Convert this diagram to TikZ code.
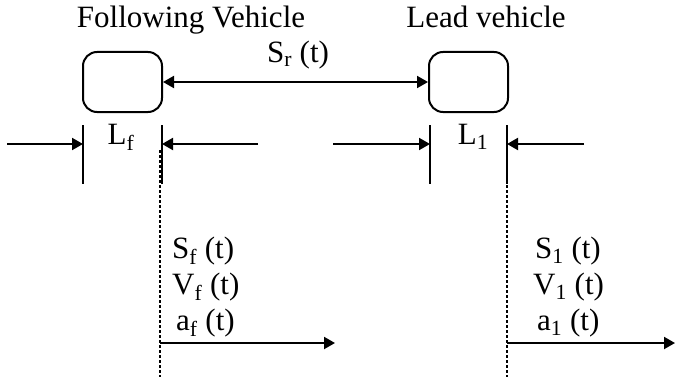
\documentclass[tikz,border=0pt]{standalone}
\usepackage{fontspec}
\setmainfont{Liberation Serif}
\usetikzlibrary{arrows.meta, calc, positioning}
\tikzstyle{vehBox}=[draw, line width=2pt, rounded corners=14pt, minimum width=79pt, minimum height=60pt, inner sep=0pt]
\tikzstyle{invisNode}=[inner sep=0pt, anchor=base, font=\fontsize{31}{37}\selectfont]
\tikzstyle{textNode}=[inner sep=0pt, anchor=base west, font=\fontsize{31}{37}\selectfont]
\tikzstyle{dimTick}=[line width=2pt]
\tikzstyle{dimArrow}=[line width=2pt, -{Triangle[length=11pt,width=12pt]}]
\tikzstyle{gapArrow}=[line width=2pt, {Triangle[length=11pt,width=12pt]}-{Triangle[length=11pt,width=12pt]}]
\tikzstyle{refLine}=[line width=1.8pt, dash pattern=on 2.5pt off 2.5pt]

\begin{document}
\begin{tikzpicture}[x=1pt, y=-1pt]
    \useasboundingbox (0,0) rectangle (676,377);

    % Vehicle Nodes
    \node[vehBox] (fBox) at (122.5, 82) {};
    \node[vehBox] (lBox) at (468.5, 82) {};
    \node[invisNode] (fTitle) at (191, 28) {Following Vehicle};
    \node[invisNode] (lTitle) at (486, 28) {Lead vehicle};

    % Gap between vehicles
    \draw[gapArrow] (fBox.east) -- (lBox.west);
    \node[invisNode, text height=21pt] (gapLabel) at (298, 63) {S\textsubscript{r} (t)};

    % Length Ticks
    \coordinate (fTick1a) at (83, 125);  \coordinate (fTick1b) at (83, 184);
    \coordinate (fTick2a) at (162, 125); \coordinate (fTick2b) at (162, 184);
    \coordinate (lTick1a) at (430, 125); \coordinate (lTick1b) at (430, 184);
    \coordinate (lTick2a) at (507, 125); \coordinate (lTick2b) at (507, 184);
    \draw[dimTick] (fTick1a) -- (fTick1b);
    \draw[dimTick] (fTick2a) -- (fTick2b);
    \draw[dimTick] (lTick1a) -- (lTick1b);
    \draw[dimTick] (lTick2a) -- (lTick2b);

    % Length Arrows
    \coordinate (fIn1) at (83, 144);  \coordinate (fOut1) at (7, 144);
    \coordinate (fIn2) at (162, 144); \coordinate (fOut2) at (258, 144);
    \coordinate (lIn1) at (430, 144); \coordinate (lOut1) at (333, 144);
    \coordinate (lIn2) at (507, 144); \coordinate (lOut2) at (584, 144);
    \draw[dimArrow] (fOut1) -- (fIn1);
    \draw[dimArrow] (fOut2) -- (fIn2);
    \draw[dimArrow] (lOut1) -- (lIn1);
    \draw[dimArrow] (lOut2) -- (lIn2);
    \node[invisNode] (fLen) at (121, 144) {L\textsubscript{f}};
    \node[invisNode] (lLen) at (473, 144) {L\textsubscript{1}};

    % Reference Lines
    \coordinate (fRefTop) at (160, 150); \coordinate (fRefBot) at (160, 377);
    \coordinate (lRefTop) at (507, 150); \coordinate (lRefBot) at (507, 377);
    \draw[refLine] (fRefTop) -- (fRefBot);
    \draw[refLine] (lRefTop) -- (lRefBot);

    % State Labels
    \node[textNode] (fPos) at (172, 258) {S\textsubscript{f} (t)};
    \node[textNode] (fVel) at (172, 294) {V\textsubscript{f} (t)};
    \node[textNode] (fAcc) at (176, 330) {a\textsubscript{f} (t)};
    \node[textNode] (lPos) at (535, 258) {S\textsubscript{1} (t)};
    \node[textNode] (lVel) at (533, 294) {V\textsubscript{1} (t)};
    \node[textNode] (lAcc) at (537, 330) {a\textsubscript{1} (t)};

    % Motion Arrows
    \coordinate (fMove) at (335, 343); \coordinate (fStart) at (160, 343);
    \coordinate (lMove) at (675, 343); \coordinate (lStart) at (507, 343);
    \draw[dimArrow] (fStart) -- (fMove);
    \draw[dimArrow] (lStart) -- (lMove);

\end{tikzpicture}
\end{document}
